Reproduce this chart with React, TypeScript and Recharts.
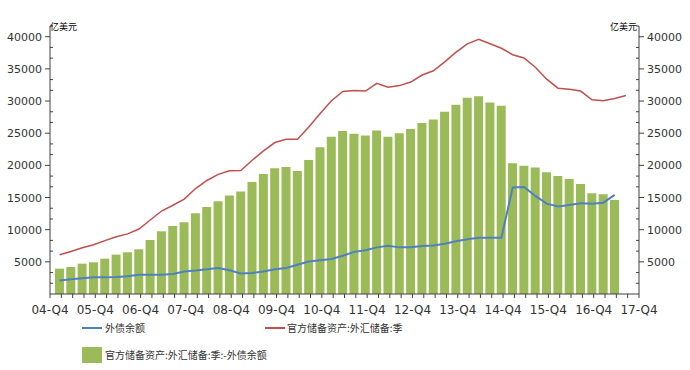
import { ComposedChart, Bar, Line, XAxis, YAxis } from "recharts";

// one label per year, each on a Q4 tick
const yearLabels = [
  "04-Q4", "05-Q4", "06-Q4", "07-Q4", "08-Q4", "09-Q4", "10-Q4",
  "11-Q4", "12-Q4", "13-Q4", "14-Q4", "15-Q4", "16-Q4", "17-Q4",
];

// 官方储备资产:外汇储备:季 (亿美元), 04-Q4 .. 17-Q2
const reserves = [
  6100, 6600, 7200, 7650, 8300, 8900, 9350, 10100, 11500, 12900,
  13800, 14750, 16400, 17650, 18600, 19150, 19200, 20800, 22250, 23550,
  24050, 24050, 25950, 28050, 30050, 31500, 31650, 31550, 32750, 32150,
  32400, 32950, 34050, 34700, 36100, 37600, 38900, 39600, 38900, 38200,
  37200, 36700, 35250, 33400, 32000, 31850, 31550, 30200, 30050, 30400,
  30850,
];

// 外债余额 (亿美元), 04-Q4 .. 17-Q1
const debt = [
  2100, 2300, 2450, 2600, 2600, 2650, 2750, 3000, 3000, 3000,
  3100, 3500, 3650, 3850, 4050, 3700, 3200, 3250, 3500, 3850,
  4050, 4550, 5050, 5250, 5450, 5950, 6550, 6800, 7250, 7500,
  7250, 7250, 7450, 7550, 7800, 8200, 8500, 8750, 8750, 8750,
  16550, 16650, 15250, 14050, 13600, 13850, 14100, 14050, 14200, 15400,
];

// 官方储备资产:外汇储备:季:-外债余额 (亿美元), 04-Q4 .. 17-Q1
const gap = [
  3940, 4200, 4720, 4930, 5500, 6120, 6480, 6950, 8400, 9750,
  10580, 11150, 12550, 13540, 14420, 15300, 15920, 17430, 18670, 19550,
  19760, 19140, 20850, 22820, 24430, 25360, 24900, 24630, 25410, 24430,
  25000, 25670, 26600, 27120, 28320, 29410, 30500, 30760, 29770, 29250,
  20330, 19920, 19660, 18940, 18360, 17890, 17120, 15660, 15500, 14630,
];

const data = reserves.map((r, i) => ({ t: i, reserves: r, debt: debt[i], gap: gap[i] }));

// a quarter's point sits a bit right of its label tick
const LEAD = 0.85;
const xTicks = Array.from({ length: 53 }, (_, k) => k - LEAD);
const Y_MAX = 125000 / 3;
const yTicks = Array.from({ length: 26 }, (_, k) => (k * 5000) / 3);

const AXIS = "#404040";
const TEXT = "#333";
const NUM_FONT = "'DejaVu Sans', Verdana, sans-serif";
const CJK_FONT = "'Noto Sans CJK SC', sans-serif";

function QuarterTick({ x, y, payload }: any) {
  const k = Math.round(payload.value + LEAD);
  return (
    <g>
      <line x1={x} x2={x} y1={y} y2={y + 4} stroke={AXIS} />
      {k % 4 === 0 && (
        <text x={x} y={y + 20} textAnchor="middle" fontSize={12} fontFamily={NUM_FONT} fill={TEXT}>
          {yearLabels[k / 4]}
        </text>
      )}
    </g>
  );
}

function ValueTick({ x, y, payload, side }: any) {
  const k = Math.round((payload.value * 3) / 5000);
  if (k === 0) return null;
  const dir = side === "left" ? -1 : 1;
  if (k % 3 !== 0) {
    return <line x1={x} x2={x - dir * 3} y1={y} y2={y} stroke={AXIS} />;
  }
  return (
    <g>
      <line x1={x} x2={x + dir * 5} y1={y} y2={y} stroke={AXIS} />
      <text
        x={x + dir * 8}
        y={y}
        dy={4}
        textAnchor={side === "left" ? "end" : "start"}
        fontSize={11}
        fontFamily={NUM_FONT}
        fill={TEXT}
      >
        {Math.round(payload.value)}
      </text>
    </g>
  );
}

const legendText = { position: "absolute" as const, fontSize: 10, fontFamily: CJK_FONT, color: TEXT, lineHeight: "12px" };

export default function App() {
  return (
    <div style={{ position: "absolute", left: 0, top: 0, width: 690, height: 370, background: "#fff" }}>
      <ComposedChart width={690} height={370} data={data} margin={{ top: 26, right: 0, bottom: 46, left: 0 }}>
        <XAxis
          dataKey="t"
          type="number"
          domain={[-LEAD, 52 - LEAD]}
          ticks={xTicks}
          interval={0}
          height={30}
          tickSize={0}
          tickMargin={0}
          tick={<QuarterTick />}
          axisLine={{ stroke: AXIS }}
          tickLine={false}
        />
        <YAxis
          yAxisId="left"
          width={50}
          domain={[0, Y_MAX]}
          ticks={yTicks}
          interval={0}
          tickSize={0}
          tickMargin={0}
          tick={<ValueTick side="left" />}
          axisLine={{ stroke: AXIS }}
          tickLine={false}
        />
        <YAxis
          yAxisId="right"
          orientation="right"
          width={51}
          domain={[0, Y_MAX]}
          ticks={yTicks}
          interval={0}
          tickSize={0}
          tickMargin={0}
          tick={<ValueTick side="right" />}
          axisLine={{ stroke: AXIS }}
          tickLine={false}
        />
        <Bar yAxisId="left" dataKey="gap" fill="#9BBB59" barSize={9} isAnimationActive={false} />
        <Line yAxisId="right" dataKey="reserves" stroke="#C0504D" strokeWidth={1.5} dot={false} type="linear" isAnimationActive={false} />
        <Line yAxisId="left" dataKey="debt" stroke="#4F81BD" strokeWidth={2} dot={false} type="linear" isAnimationActive={false} />
      </ComposedChart>

      <div style={{ position: "absolute", left: 50, top: 20, fontSize: 9, fontFamily: CJK_FONT, color: "#000" }}>亿美元</div>
      <div style={{ position: "absolute", left: 610, top: 20, fontSize: 9, fontFamily: CJK_FONT, color: "#000" }}>亿美元</div>

      <div style={{ position: "absolute", left: 82, top: 327, width: 20, height: 2, background: "#4F81BD" }} />
      <div style={{ ...legendText, left: 105, top: 322 }}>外债余额</div>
      <div style={{ position: "absolute", left: 265, top: 327, width: 20, height: 2, background: "#C0504D" }} />
      <div style={{ ...legendText, left: 287, top: 322 }}>官方储备资产:外汇储备:季</div>
      <div style={{ position: "absolute", left: 82, top: 347, width: 20, height: 16, background: "#9BBB59" }} />
      <div style={{ ...legendText, left: 105, top: 349 }}>官方储备资产:外汇储备:季:-外债余额</div>
    </div>
  );
}
